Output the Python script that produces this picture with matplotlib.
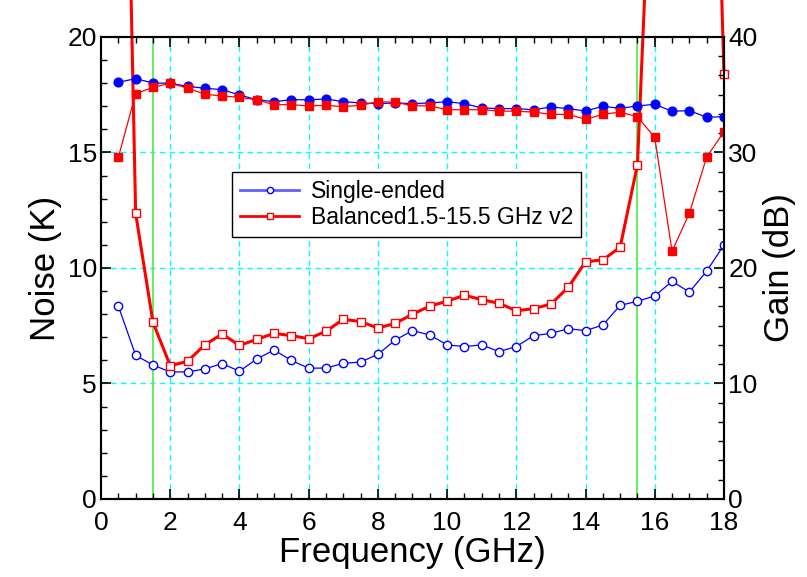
#!/usr/bin/env python3
"""Noise temperature and gain vs frequency, single-ended vs balanced amplifier."""

import matplotlib
matplotlib.use('Agg')
import matplotlib.pyplot as plt
from matplotlib.ticker import MultipleLocator, AutoMinorLocator

plt.rcParams['font.family'] = ['Liberation Sans', 'DejaVu Sans']

# Frequency points (GHz)
freq = [0.5, 1.0, 1.5, 2.0, 2.5, 3.0, 3.5, 4.0, 4.5, 5.0, 5.5, 6.0,
        6.5, 7.0, 7.5, 8.0, 8.5, 9.0, 9.5, 10.0, 10.5, 11.0, 11.5, 12.0,
        12.5, 13.0, 13.5, 14.0, 14.5, 15.0, 15.5, 16.0, 16.5, 17.0, 17.5, 18.0]

# Noise temperature (K), left axis
se_noise = [8.35, 6.22, 5.80, 5.50, 5.50, 5.63, 5.86, 5.53, 6.06, 6.45, 6.00, 5.66,
            5.67, 5.87, 5.93, 6.26, 6.88, 7.29, 7.10, 6.67, 6.60, 6.67, 6.38, 6.60,
            7.07, 7.17, 7.37, 7.29, 7.53, 8.38, 8.56, 8.79, 9.42, 8.96, 9.86, 11.0]
bal_noise = [48.0, 12.37, 7.65, 5.77, 5.96, 6.68, 7.14, 6.65, 6.91, 7.17, 7.07, 6.94,
             7.26, 7.78, 7.68, 7.40, 7.60, 8.00, 8.35, 8.56, 8.82, 8.63, 8.47, 8.15,
             8.24, 8.44, 9.16, 10.27, 10.35, 10.9, 14.47, 32.0, 55.0, 60.0, 44.0, 18.4]

# Gain (dB), right axis
se_gain = [36.08, 36.39, 36.02, 35.99, 35.73, 35.56, 35.44, 34.98, 34.57, 34.40, 34.57, 34.57,
           34.63, 34.40, 34.29, 34.23, 34.29, 34.23, 34.29, 34.40, 34.23, 33.85, 33.80, 33.80,
           33.70, 33.94, 33.80, 33.59, 34.00, 33.82, 34.03, 34.17, 33.57, 33.62, 33.05, 33.10]
bal_gain = [29.58, 35.09, 35.64, 35.99, 35.58, 35.04, 34.89, 34.78, 34.55, 34.14, 34.14, 34.03,
            34.08, 33.97, 34.08, 34.40, 34.35, 34.05, 34.03, 33.70, 33.70, 33.70, 33.59, 33.57,
            33.50, 33.30, 33.30, 32.87, 33.30, 33.50, 33.10, 31.30, 21.45, 24.74, 29.60, 31.80]

band_edges = [1.5, 15.5]

fig = plt.figure(figsize=(8.07, 5.77), dpi=100)
ax = fig.add_axes([0.1252, 0.1352, 0.7719, 0.8007])
ax2 = ax.twinx()

# Grid and band markers
for gx in [2, 4, 6, 8, 10, 12, 14, 16]:
    ax.axvline(gx, color='#00ffff', lw=1.0, ls=(0, (4, 3)), zorder=0)
for gy in [5, 10, 15]:
    ax.axhline(gy, color='#00ffff', lw=1.0, ls=(0, (4, 3)), zorder=0)
for b in band_edges:
    ax.axvline(b, color='#55ee55', lw=1.3, zorder=1)

# Noise
ax.plot(freq, se_noise, color='#0000ff', lw=0.9, marker='o', ms=6,
        mfc='white', mec='#0000ff', mew=1.0, zorder=3)
ax.plot(freq, bal_noise, color='#ff0000', lw=2.2, marker='s', ms=5.5,
        mfc='white', mec='#ff0000', mew=1.0, zorder=3, clip_on=False)

# Gain
ax2.plot(freq, se_gain, color='#0000ff', lw=0.9, marker='o', ms=6.3,
         mfc='#0000ff', mec='#0000ff')
ax2.plot(freq, bal_gain, color='#ff0000', lw=0.9, marker='s', ms=6,
         mfc='#ff0000', mec='#ff0000')

ax.set_xlim(0, 18)
ax.set_ylim(0, 20)
ax2.set_ylim(0, 40)

ax.xaxis.set_major_locator(MultipleLocator(2))
ax.xaxis.set_minor_locator(AutoMinorLocator(4))
ax.yaxis.set_major_locator(MultipleLocator(5))
ax.yaxis.set_minor_locator(AutoMinorLocator(5))
ax2.yaxis.set_major_locator(MultipleLocator(10))
ax2.yaxis.set_minor_locator(AutoMinorLocator(6))

ax.tick_params(axis='x', which='both', direction='in', top=True, labelsize=19, pad=8.5)
ax.tick_params(axis='y', which='both', direction='in', labelsize=19, pad=3)
ax2.tick_params(axis='y', which='both', direction='in', labelsize=19, pad=3)
for a in (ax, ax2):
    a.tick_params(which='major', length=7, width=1.2)
    a.tick_params(which='minor', length=4, width=1.0)
    for s in a.spines.values():
        s.set_linewidth(1.5)

ax.set_xlabel('Frequency (GHz)', fontsize=25, labelpad=1)
ax.set_ylabel('Noise (K)', fontsize=25, labelpad=4)
ax2.set_ylabel('Gain (dB)', fontsize=25, labelpad=4)

# Legend for the noise curves
h1, = ax.plot([], [], color='#6060ff', lw=2, marker='o', ms=4.5, mfc='white', mec='#0000ff')
h2, = ax.plot([], [], color='#ff0000', lw=2, marker='s', ms=4.5, mfc='white', mec='#ff0000')
leg = ax2.legend([h1, h2], ['Single-ended', 'Balanced1.5-15.5 GHz v2'],
                 loc='upper left', bbox_to_anchor=(0.21, 0.708), borderaxespad=0,
                 fontsize=16.5, frameon=True, fancybox=False, edgecolor='black',
                 framealpha=1, handlelength=2.6, borderpad=0.35, labelspacing=0.15,
                 handletextpad=0.5)
leg.get_frame().set_linewidth(1.0)

plt.savefig('out.png', dpi=100)
plt.close()
